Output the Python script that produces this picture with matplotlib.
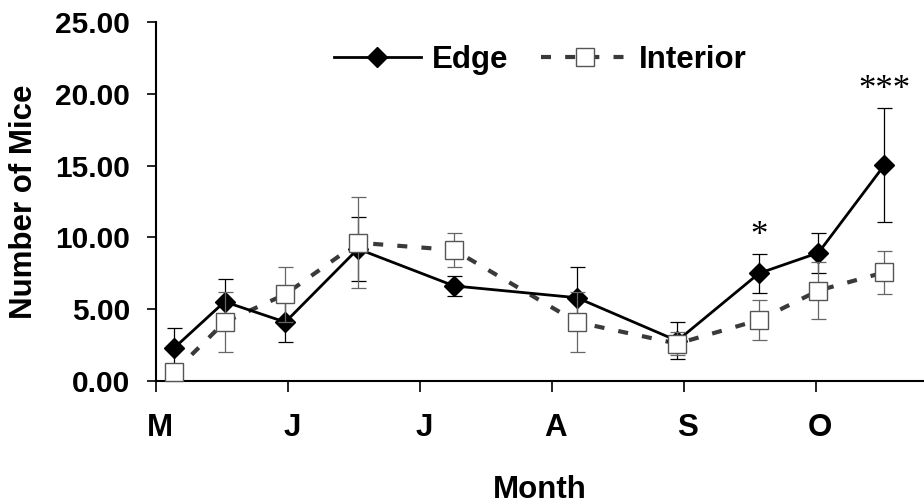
import matplotlib
matplotlib.use("Agg")
import matplotlib.pyplot as plt
from matplotlib.lines import Line2D
from matplotlib.transforms import ScaledTranslation

# sampling dates, in months after the start of May
sample_pos = [0.14, 0.52, 0.98, 1.53, 2.26, 3.19, 3.95, 4.57, 5.02, 5.52]

edge_mean = [2.32, 5.52, 4.10, 9.20, 6.62, 5.80, 2.80, 7.50, 8.93, 15.04]
edge_se = [1.37, 1.60, 1.40, 2.24, 0.72, 2.16, 1.28, 1.35, 1.40, 4.00]

interior_mean = [0.65, 4.10, 6.04, 9.63, 9.12, 4.10, 2.60, 4.25, 6.30, 7.57]
interior_se = [0.50, 2.10, 1.90, 3.17, 1.20, 2.10, 0.82, 1.37, 2.00, 1.50]

month_pos = [0, 1, 2, 3, 4, 5]
month_labels = ['M', 'J', 'J', 'A', 'S', 'O']
y_ticks = [0, 5, 10, 15, 20, 25]

# significance marks: (index of sample, text)
sig_marks = [(7, '*'), (9, '***')]

plt.rcParams['font.family'] = ['Liberation Sans', 'DejaVu Sans']
plt.rcParams['font.weight'] = 'bold'

fig = plt.figure(figsize=(9.24, 5.04), dpi=100)
ax = fig.add_axes([156 / 924, 123 / 504, 768 / 924, 359 / 504])

dark = '#3a3a3a'
grey = '#666666'

# interior: dashed grey line underneath everything
ax.plot(sample_pos, interior_mean, color=dark, lw=3, dashes=(2.4, 3.4),
        zorder=2, clip_on=False)
# edge: solid black line
ax.errorbar(sample_pos, edge_mean, yerr=edge_se, fmt='none', ecolor='black',
            elinewidth=0.9, capsize=5.4, capthick=0.9, zorder=3, clip_on=False)
ax.plot(sample_pos, edge_mean, color='black', lw=2, marker='D', ms=10,
        mfc='black', mec='black', zorder=4, clip_on=False)
# interior markers on top
ax.errorbar(sample_pos, interior_mean, yerr=interior_se, fmt='none', ecolor=grey,
            elinewidth=0.9, capsize=5.4, capthick=0.9, zorder=5, clip_on=False)
ax.plot(sample_pos, interior_mean, ls='none', marker='s', ms=13,
        mfc='white', mec='#555555', mew=1, zorder=6, clip_on=False)

for i, txt in sig_marks:
    top = edge_mean[i] + edge_se[i]
    ax.text(sample_pos[i], top + 0.6, txt, ha='center', va='baseline',
            fontsize=25, fontweight='normal', family='Liberation Serif')

ax.set_xlim(0, 5.82)
ax.set_ylim(0, 25)
ax.set_yticks(y_ticks)
ax.set_yticklabels([f'{v:.2f}' for v in y_ticks])
ax.set_xticks(month_pos)
ax.set_xticklabels(month_labels)

for s in ['top', 'right']:
    ax.spines[s].set_visible(False)
for s in ['left', 'bottom']:
    ax.spines[s].set_linewidth(1.5)

ax.tick_params(axis='y', direction='out', length=6.5, width=1.2, pad=12,
               labelsize=21.5)
ax.tick_params(axis='x', direction='out', length=8, width=1.2, pad=15,
               labelsize=22.5)
shift = ScaledTranslation(4 / 100, 0, fig.dpi_scale_trans)
for lab in ax.get_xticklabels():
    lab.set_transform(lab.get_transform() + shift)

ax.set_xlabel('Month', fontsize=22.5, fontweight='bold')
ax.set_ylabel('Number of Mice', fontsize=22.5, fontweight='bold')
ax.xaxis.set_label_coords(0.5, -0.262)
ax.yaxis.set_label_coords(-0.152, 0.5)

edge_handle = Line2D([], [], color='black', lw=2, marker='D', ms=10)
int_handle = Line2D([], [], color=dark, lw=3, dashes=(2.4, 3.4), marker='s',
                    ms=13, mfc='white', mec='#555555', mew=1)
fig.legend([edge_handle, int_handle], ['Edge', 'Interior'], loc='center',
           bbox_to_anchor=(540 / 924, 1 - 60 / 504), ncol=2, frameon=False,
           prop={'size': 22.5, 'weight': 'bold'}, handlelength=2.8,
           handletextpad=0.33, columnspacing=1.05)

fig.savefig('out.png', dpi=100)
